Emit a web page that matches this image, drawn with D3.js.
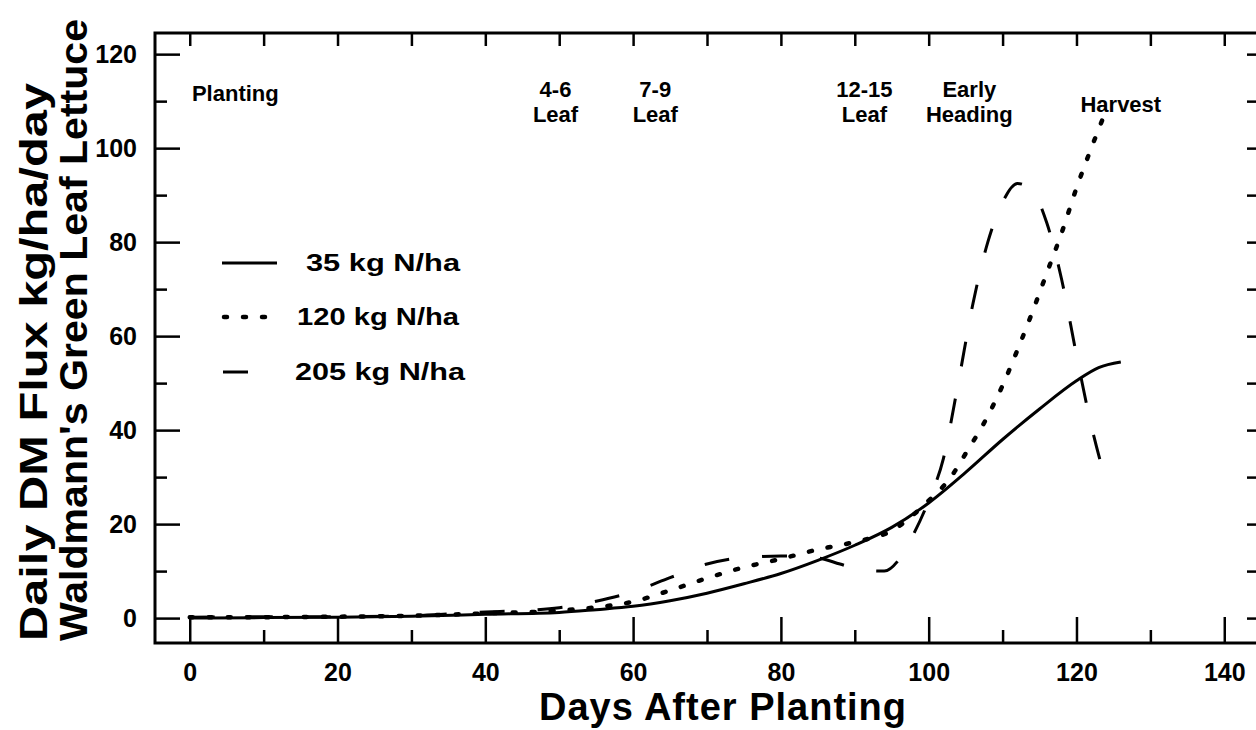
<!DOCTYPE html>
<html>
<head>
<meta charset="utf-8">
<script src="https://cdn.jsdelivr.net/npm/d3@7"></script>
<style>
  body { margin: 0; background: #fff; }
  text { font-family: "Liberation Sans", Arial, sans-serif; font-weight: bold; fill: #000; }
</style>
</head>
<body>
<svg id="chart" width="1256" height="730"></svg>
<script>
// 35 kg N/ha
const days35 = [0, 10, 20, 30, 40, 50, 55, 60, 65, 70, 75, 80, 85, 90, 95, 100, 105, 110, 115, 120, 123, 126];
const flux35 = [0, 0.1, 0.2, 0.4, 0.8, 1.2, 1.8, 2.5, 3.7, 5.3, 7.3, 9.5, 12.3, 15.5, 19.3, 24.5, 31, 38, 44.5, 50.5, 53.3, 54.5];

// 120 kg N/ha
const days120 = [0, 10, 20, 30, 40, 50, 55, 60, 65, 70, 75, 80, 85, 90, 95, 100, 103, 105, 108, 110, 112, 114, 116, 118, 120, 122, 123.5];
const flux120 = [0.2, 0.2, 0.3, 0.5, 1.0, 1.6, 2.3, 3.5, 5.9, 8.5, 10.8, 12.6, 14.6, 16.2, 18.6, 25, 30, 35, 43, 49.5, 57, 65, 73.5, 82, 91.5, 100, 106];

// 205 kg N/ha
const days205 = [0, 10, 20, 30, 40, 45, 50, 55, 60, 65, 70, 75, 80, 85, 88, 91, 94, 96, 98, 100, 102, 104, 106, 108, 110, 112, 114, 116, 118, 120, 122, 124];
const flux205 = [0.2, 0.3, 0.3, 0.5, 1.3, 1.6, 2.2, 3.6, 5.6, 8.6, 11.5, 12.9, 13.2, 12.8, 11.5, 10.2, 10, 12.5, 18, 25, 34, 50, 67, 80, 88.5, 92.5, 91, 84, 72, 56, 41, 29];

const seriesNames = ['35 kg N/ha', '120 kg N/ha', '205 kg N/ha'];

// growth stages written across the top
const stageLines = [['Planting'], ['4-6', 'Leaf'], ['7-9', 'Leaf'], ['12-15', 'Leaf'], ['Early', 'Heading'], ['Harvest']];
const stageDays = [0.3, 49.5, 63, 91.3, 105.5, 126];

const xMajor = [0, 20, 40, 60, 80, 100, 120, 140];
const xMinor = [10, 30, 50, 70, 90, 110, 130];
const yMajor = [0, 20, 40, 60, 80, 100, 120];
const yMinor = [10, 30, 50, 70, 90, 110];

const svg = d3.select('#chart');

const plotLeft = 155, plotRight = 1259, plotTop = 33, plotBottom = 643;

const xScale = d3.scaleLinear().domain([-4.7, 144.7]).range([plotLeft, plotRight]);
const yScale = d3.scaleLinear().domain([-5.3, 124.5]).range([plotBottom, plotTop]);

// frame
svg.append('rect')
    .attr('x', plotLeft).attr('y', plotTop)
    .attr('width', plotRight - plotLeft).attr('height', plotBottom - plotTop)
    .style('fill', 'none').style('stroke', '#000').style('stroke-width', 3);

function styleAxis(g) {
    g.select('.domain').remove();
    g.selectAll('line').style('stroke', '#000').style('stroke-width', 2.5);
    g.selectAll('text').style('font-size', '25px').style('font-family', '"Liberation Sans", Arial, sans-serif').style('font-weight', 'bold');
}

// bottom axis, long ticks with labels, short ticks between
svg.append('g')
    .attr('transform', `translate(0,${plotBottom})`)
    .call(d3.axisBottom(xScale).tickValues(xMajor).tickSize(-26).tickPadding(20).tickFormat(d3.format('d')))
    .call(styleAxis);
svg.append('g')
    .attr('transform', `translate(0,${plotBottom})`)
    .call(d3.axisBottom(xScale).tickValues(xMinor).tickSize(-13).tickFormat(''))
    .call(styleAxis);

// top axis
svg.append('g')
    .attr('transform', `translate(0,${plotTop})`)
    .call(d3.axisTop(xScale).tickValues(xMajor.concat(xMinor)).tickSize(-13).tickFormat(''))
    .call(styleAxis);

// left axis
svg.append('g')
    .attr('transform', `translate(${plotLeft},0)`)
    .call(d3.axisLeft(yScale).tickValues(yMajor).tickSize(-25).tickPadding(18).tickFormat(d3.format('d')))
    .call(styleAxis);
svg.append('g')
    .attr('transform', `translate(${plotLeft},0)`)
    .call(d3.axisLeft(yScale).tickValues(yMinor).tickSize(-12).tickFormat(''))
    .call(styleAxis);

// right axis
svg.append('g')
    .attr('transform', `translate(${plotRight},0)`)
    .call(d3.axisRight(yScale).tickValues(yMajor.concat(yMinor)).tickSize(-12).tickFormat(''))
    .call(styleAxis);

// curves
const styles = [
    { dash: null, width: 3, cap: 'butt' },
    { dash: '3,16', width: 4.5, cap: 'round' },
    { dash: '25,33', width: 3, cap: 'butt' }
];
const series = [
    d3.zip(days35, flux35),
    d3.zip(days120, flux120),
    d3.zip(days205, flux205)
];

const line = d3.line()
    .x(d => xScale(d[0]))
    .y(d => yScale(d[1]))
    .curve(d3.curveMonotoneX);

series.forEach((s, i) => {
    svg.append('path')
        .datum(s)
        .attr('d', line)
        .style('fill', 'none')
        .style('stroke', '#000')
        .style('stroke-width', styles[i].width)
        .style('stroke-linecap', styles[i].cap)
        .style('stroke-dasharray', styles[i].dash);
});

// legend
const legendX = [[222, 277], [224, 268], [223, 250]];
const legendY = [263, 317, 372];
const legendTextX = [306, 297, 295];
const legendTextW = [154, 162, 170];
seriesNames.forEach((name, i) => {
    svg.append('line')
        .attr('x1', legendX[i][0]).attr('x2', legendX[i][1])
        .attr('y1', legendY[i]).attr('y2', legendY[i])
        .style('stroke', '#000')
        .style('stroke-width', styles[i].width)
        .style('stroke-linecap', styles[i].cap)
        .style('stroke-dasharray', styles[i].dash);
    svg.append('text')
        .attr('x', legendTextX[i]).attr('y', legendY[i])
        .attr('dy', '0.35em')
        .attr('textLength', legendTextW[i])
        .attr('lengthAdjust', 'spacingAndGlyphs')
        .style('font-size', '24px')
        .text(name);
});

// stage labels
stageLines.forEach((lines, i) => {
    const single = lines.length === 1;
    const t = svg.append('text')
        .attr('x', xScale(stageDays[i]))
        .attr('text-anchor', i === 0 ? 'start' : 'middle')
        .style('font-size', '22px');
    lines.forEach((l, j) => {
        t.append('tspan')
            .attr('x', xScale(stageDays[i]))
            .attr('y', (single ? (i === 0 ? 101 : 112) : 97) + j * 25)
            .text(l);
    });
});

// axis titles
svg.append('text')
    .attr('x', 723).attr('y', 720)
    .attr('text-anchor', 'middle')
    .style('font-size', '38px')
    .style('letter-spacing', '1px')
    .text('Days After Planting');

svg.append('text')
    .attr('transform', 'translate(47,641) rotate(-90)')
    .attr('textLength', 558)
    .attr('lengthAdjust', 'spacingAndGlyphs')
    .style('font-size', '38px')
    .text('Daily DM Flux kg/ha/day');

svg.append('text')
    .attr('transform', 'translate(87,641) rotate(-90)')
    .attr('textLength', 622)
    .attr('lengthAdjust', 'spacingAndGlyphs')
    .style('font-size', '38px')
    .text("Waldmann's Green Leaf Lettuce");
</script>
</body>
</html>
